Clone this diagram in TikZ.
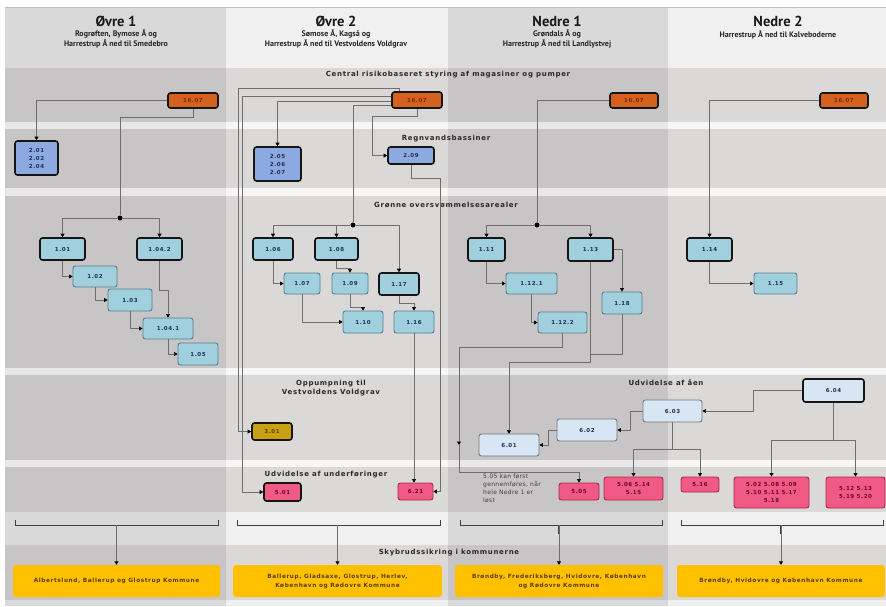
\documentclass[tikz,border=0pt]{standalone}
\usepackage{fontspec}
\usetikzlibrary{arrows.meta}
\newfontfamily\hfont{PT Sans}
\newfontfamily\bfont{DejaVu Sans}[LetterSpace=10]
\newfontfamily\nfont{DejaVu Sans}[LetterSpace=5]
\definecolor{colA}{HTML}{D9D9D9}
\definecolor{colB}{HTML}{F0F0F0}
\definecolor{bandc}{RGB}{110,95,95}
\definecolor{linec}{HTML}{6E6E6E}
\definecolor{darkb}{HTML}{151515}
\definecolor{orangef}{HTML}{D4621E}
\definecolor{oranget}{HTML}{7A2A00}
\definecolor{bluef}{HTML}{8CAAE0}
\definecolor{navy}{HTML}{1F2F5A}
\definecolor{cyanf}{HTML}{A0CFDE}
\definecolor{cyanb}{HTML}{5A7D8C}
\definecolor{lbf}{HTML}{D7E6F2}
\definecolor{lbb}{HTML}{70797F}
\definecolor{pinkf}{HTML}{F05A84}
\definecolor{pinkb}{HTML}{A8284E}
\definecolor{pinkt}{HTML}{6A0A26}
\definecolor{goldf}{HTML}{C8A014}
\definecolor{goldt}{HTML}{5A4000}
\definecolor{yelf}{HTML}{FFC000}
\definecolor{yelt}{HTML}{5E3C00}
\definecolor{bandt}{HTML}{2A2A2A}
\newcommand\bx[7]{\node[#6, minimum width={#4-#2}, minimum height={#5-#3}] (#1) at ({(#2+#4)/2},{(#3+#5)/2}) {#7};}
\tikzset{
 con/.style={draw=linec, line width=0.6pt, -{Triangle[width=4pt,length=3.5pt,color=black]}},
 conn/.style={draw=linec, line width=0.6pt},
 bxbase/.style={rounded corners=2.5pt, inner sep=0pt, align=center, font=\bfont\bfseries\fontsize{5.5}{7}\selectfont},
 orng/.style={bxbase, fill=orangef, draw=darkb, line width=1.6pt, text=oranget},
 blu/.style={bxbase, fill=bluef, draw=darkb, line width=1.6pt, text=navy, font=\bfont\bfseries\fontsize{5.5}{8}\selectfont},
 cyk/.style={bxbase, fill=cyanf, draw=darkb, line width=1.6pt, text=navy},
 cyt/.style={bxbase, fill=cyanf, draw=cyanb, line width=0.9pt, text=navy},
 lbt/.style={bxbase, fill=lbf, draw=lbb, line width=0.9pt, text=navy},
 lbk/.style={bxbase, fill=lbf, draw=darkb, line width=1.6pt, text=navy},
 pnk/.style={bxbase, fill=pinkf, draw=pinkb, line width=0.9pt, text=pinkt, font=\bfont\bfseries\fontsize{5.5}{8}\selectfont},
 pnkk/.style={pnk, draw=darkb, line width=1.6pt},
 gld/.style={bxbase, fill=goldf, draw=darkb, line width=1.6pt, text=goldt},
 ylw/.style={bxbase, fill=yelf, draw=none, rounded corners=3pt, text=yelt, font=\bfont\bfseries\fontsize{5.8}{9}\selectfont},
 dotst/.style={circle, fill=black, inner sep=0pt, minimum size=5pt},
 bandlbl/.style={font=\bfont\bfseries\fontsize{7}{9}\selectfont, text=bandt, inner sep=0pt, align=center},
 titlef/.style={font=\hfont\bfseries\fontsize{14.5}{16}\selectfont, text=black!90, inner sep=0pt},
 subf/.style={font=\hfont\bfseries\fontsize{8}{9.5}\selectfont, text=black!85, inner sep=0pt, align=center},
 brk/.style={draw=black!75, line width=0.9pt},
 stub/.style={draw=black!75, line width=1.4pt},
 notef/.style={font=\nfont\fontsize{6}{8}\selectfont, text=black!75, inner sep=0pt, align=left},
}
\begin{document}
\begin{tikzpicture}[x=1pt,y=-1pt]
\useasboundingbox (0,0) rectangle (886,606);
% columns
\fill[white] (0,0) rectangle (886,606);
\fill[colA] (5,7) rectangle (226,606);
\fill[colB] (226,7) rectangle (448,606);
\fill[colA] (448,7) rectangle (668,606);
\fill[colB] (668,7) rectangle (886,606);
\draw[black!25, line width=0.6pt] (5,7) -- (886,7);
% bands
\foreach \a/\b in {68/122,129/188,196/368,375/460,467/512,545/600}
  \fill[bandc, opacity=0.16] (5,\a) rectangle (886,\b);
\foreach \a/\b in {122/129,188/196,368/375,460/467}
  \fill[white, opacity=0.4] (5,\a) rectangle (886,\b);
% headers
\node[titlef] (h1) at (116,21) {Øvre 1};
\node[subf] (s1) at (116,39) {Rogrøften, Bymose Å og\\Harrestrup Å ned til Smedebro};
\node[titlef] (h2) at (336,21) {Øvre 2};
\node[subf] (s2) at (336,39) {Sømose Å, Kagså og\\Harrestrup Å ned til Vestvoldens Voldgrav};
\node[titlef] (h3) at (557,21) {Nedre 1};
\node[subf] (s3) at (557,39) {Grøndals Å og\\Harrestrup Å ned til Landlystvej};
\node[titlef] (h4) at (778,21) {Nedre 2};
\node[subf] (s4) at (778,35) {Harrestrup Å ned til Kalveboderne};
% band labels
\node[bandlbl] (t1) at (448,75) {Central risikobaseret styring af magasiner og pumper};
\node[bandlbl] (t2) at (446,139) {Regnvandsbassiner};
\node[bandlbl] (t3) at (446,205) {Grønne oversvømmelsesarealer};
\node[bandlbl] (t4) at (331,388) {Oppumpning til\\Vestvoldens Voldgrav};
\node[bandlbl] (t5) at (326,475) {Udvidelse af underføringer};
\node[bandlbl] (t6) at (666,382) {Udvidelse af åen};
\node[bandlbl] (t7) at (449,553) {Skybrudssikring i kommunerne};
% boxes
\bx{o1a}{168}{93}{218}{108}{orng}{16.07}
\bx{o2a}{392}{92}{442}{108}{orng}{16.07}
\bx{n1a}{610}{93}{658}{108}{orng}{16.07}
\bx{n2a}{820}{93}{868}{108}{orng}{16.07}
\bx{n201}{15}{141}{58}{175}{blu}{2.01\\2.02\\2.04}
\bx{n205}{254}{147}{301}{181}{blu}{2.05\\2.06\\2.07}
\bx{n209}{388}{147}{434}{164}{blu}{2.09}
\bx{n101}{40}{238}{85}{260}{cyk}{1.01}
\bx{n1042}{137}{238}{182}{260}{cyk}{1.04.2}
\bx{n102}{73}{266}{117}{287}{cyt}{1.02}
\bx{n103}{108}{289}{152}{311}{cyt}{1.03}
\bx{n1041}{143}{318}{193}{339}{cyt}{1.04.1}
\bx{n105}{178}{343}{218}{365}{cyt}{1.05}
\bx{n106}{253}{238}{293}{260}{cyk}{1.06}
\bx{n108}{315}{238}{358}{260}{cyk}{1.08}
\bx{n107}{284}{273}{320}{294}{cyt}{1.07}
\bx{n109}{332}{273}{368}{294}{cyt}{1.09}
\bx{n117}{379}{273}{419}{295}{cyk}{1.17}
\bx{n110}{343}{311}{383}{333}{cyt}{1.10}
\bx{n116}{394}{311}{434}{333}{cyt}{1.16}
\bx{n111}{468}{238}{505}{261}{cyk}{1.11}
\bx{n113}{568}{238}{613}{261}{cyk}{1.13}
\bx{n1121}{506}{273}{557}{294}{cyt}{1.12.1}
\bx{n118}{602}{292}{642}{314}{cyt}{1.18}
\bx{n1122}{538}{312}{587}{333}{cyt}{1.12.2}
\bx{n114}{687}{238}{732}{261}{cyk}{1.14}
\bx{n115}{754}{273}{797}{294}{cyt}{1.15}
\bx{n301}{252}{423}{292}{440}{gld}{3.01}
\bx{n501}{264}{483}{301}{501}{pnkk}{5.01}
\bx{n621}{398}{483}{433}{500}{pnk}{6.21}
\bx{n601}{479}{434}{539}{456}{lbt}{6.01}
\bx{n602}{557}{419}{617}{441}{lbt}{6.02}
\bx{n603}{643}{400}{702}{422}{lbt}{6.03}
\bx{n604}{803}{379}{864}{402}{lbk}{6.04}
\bx{n505}{559}{483}{599}{500}{pnk}{5.05}
\bx{n506}{604}{477}{663}{500}{pnk}{5.06 5.14\\5.15}
\bx{n516}{681}{477}{719}{492}{pnk}{5.16}
\bx{n502}{734}{477}{809}{508}{pnk}{5.02 5.08 5.09\\5.10 5.11 5.17\\5.18}
\bx{n512}{826}{477}{885}{508}{pnk}{5.12 5.13\\5.19 5.20}
\bx{y1}{13}{565}{220}{597}{ylw}{Albertslund, Ballerup og Glostrup Kommune}
\bx{y2}{233}{565}{442}{597}{ylw}{Ballerup, Gladsaxe, Glostrup, Herlev,\\København og Rødovre Kommune}
\bx{y3}{455}{565}{663}{597}{ylw}{Brøndby, Frederiksberg, Hvidovre, København\\og Rødovre Kommune}
\bx{y4}{677}{565}{885}{597}{ylw}{Brøndby, Hvidovre og København Kommune}
\node[notef, anchor=north west] (note) at (483,474) {5.05 kan først\\gennemføres, når\\hele Nedre 1 er\\løst};
% dots and helper coordinates
\node[dotst] (dotA) at (120,218) {};
\node[dotst] (dotB) at (353,225) {};
\node[dotst] (dotC) at (537,225) {};
\coordinate (mk) at (459,445);
% Øvre 1 connectors
\draw[con] (o1a.west) -| (n201.north);
\draw[conn] (o1a.south) -- ++(0,8) -| (dotA);
\draw[con] (dotA) -| (n101.north);
\draw[con] (dotA) -| (n1042.north);
\draw[con] (n101.south) |- (n102.west);
\draw[con] (n102.south) |- (n103.west);
\draw[con] (n103.south) |- (n1041.west);
\draw[con] (n1042.south) -- ++(0,29) -| (n1041.north);
\draw[con] (n1041.south) |- (n105.west);
% Øvre 2 connectors
\draw[con] ([xshift=8pt]o2a.north west) |- (238,88) |- (n301.west);
\draw[con] ([yshift=4pt]o2a.west) -| ([xshift=-21pt]n501.west) -- (n501.west);
\draw[con] ([yshift=-1pt]o2a.west) -| (n205.north);
\draw[conn] ([yshift=-5pt]o2a.west) -| (dotB);
\draw[con] (o2a.south) -- ++(0,7) -| ([xshift=-15pt]n209.west) -- (n209.west);
\draw[con] (n209.south) -- ++(0,13) -| ([xshift=7pt]n621.east) -- (n621.east);
\draw[con] (dotB) -| (n106.north);
\draw[con] (dotB) -| (n108.north);
\draw[con] (dotB) -| (n117.north);
\draw[con] (n106.south) |- (n107.west);
\draw[con] (n108.south) -- ++(0,7) -| (n109.north);
\draw[con] (n107.south) |- (n110.west);
\draw[con] (n109.south) -- ++(0,13) -| (n110.north);
\draw[con] (n117.south) -- ++(0,7) -| (n116.north);
\draw[con] (n116.south) -- (n116.south |- n621.north);
% Nedre 1 connectors
\draw[conn] (n1a.west) -| (dotC);
\draw[con] (dotC) -| (n111.north);
\draw[con] (dotC) -| (n113.north);
\draw[con] (n111.south) |- (n1121.west);
\draw[con] (n1121.south) |- (n1122.west);
\draw[con] (n113.east) -| (n118.north);
\draw[con] (n1122.south) -- ++(0,14) -| (mk);
\draw[con] (mk) -- ++(0,27) -| (n505.north);
\draw[con] (n118.south) -- ++(0,40) -| ([yshift=-100pt]n113.south) -| (n601.north);
\draw[con] (n113.south) -- ++(0,100) -| (n601.north);
% Nedre 2 connectors
\draw[con] (n2a.west) -| (n114.north);
\draw[con] (n114.south) |- (n115.west);
% 6.x chain
\draw[con] (n604.west) -| ([xshift=51pt]n603.east) -- (n603.east);
\draw[con] (n603.west) -| ([xshift=13pt]n602.east) -- (n602.east);
\draw[con] (n602.west) -| ([xshift=9pt]n601.east) -- (n601.east);
\draw[con] (n603.south) -- ++(0,27) -| (n506.north);
\draw[con] (n603.south) -- ++(0,27) -| (n516.north);
\draw[con] (n604.south) -- ++(0,37) -| (n502.north);
\draw[con] (n604.south) -- ++(0,37) -| (n512.north);
% brackets
\draw[brk] (15,520) -- (15,525) -- (218,525) -- (218,520);
\draw[brk] (237,520) -- (237,525) -- (440,525) -- (440,520);
\draw[brk] (460,520) -- (460,525) -- (662,525) -- (662,520);
\draw[brk] (681,520) -- (681,525) -- (883,525) -- (883,520);
\coordinate (bk1) at (y1.north |- 0,525);
\coordinate (bk2) at (y2.north |- 0,525);
\coordinate (bk3) at (y3.north |- 0,525);
\coordinate (bk4) at (y4.north |- 0,525);
\foreach \k in {1,2,3,4}{
  \draw[stub] (bk\k) -- ++(0,9);
  \draw[con] (bk\k) -- (y\k.north);
}
\end{tikzpicture}
\end{document}
